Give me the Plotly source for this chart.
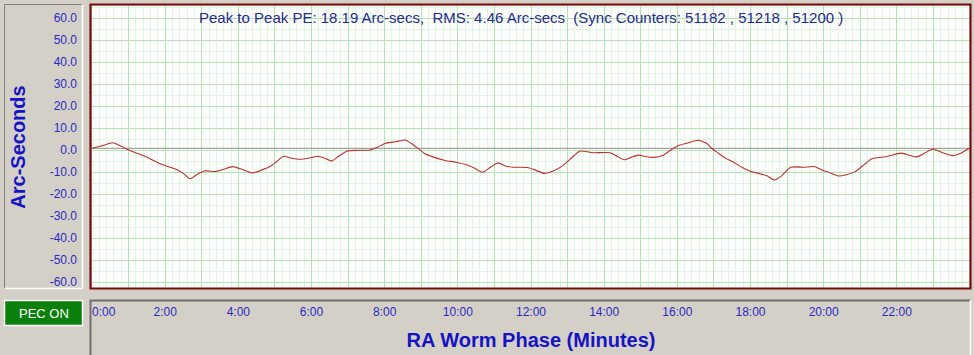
import plotly.graph_objects as go

# ---- data ----
phase_min = [0.0, 0.3, 0.57, 0.79, 1.02, 1.43, 1.93, 2.30, 2.50, 2.68, 2.88, 3.07, 3.39, 3.60,
             3.85, 4.10, 4.39, 4.65, 4.89, 5.05, 5.24, 5.45, 5.68, 5.95, 6.17, 6.35, 6.55, 6.75,
             6.98, 7.30, 7.60, 7.80, 8.01, 8.30, 8.56, 8.75, 8.97, 9.10, 9.33, 9.65, 9.95, 10.24,
             10.45, 10.68, 10.90, 11.10, 11.30, 11.50, 11.90, 12.10, 12.37, 12.62, 12.86, 13.10,
             13.33, 13.70, 14.16, 14.35, 14.55, 14.75, 14.93, 15.15, 15.37, 15.60, 15.80, 16.02,
             16.26, 16.57, 16.80, 16.95, 17.12, 17.35, 17.50, 17.75, 17.99, 18.25, 18.45, 18.66,
             18.85, 19.10, 19.45, 19.75, 19.95, 20.15, 20.40, 20.62, 20.86, 21.10, 21.31, 21.70,
             22.13, 22.54, 22.98, 23.25, 23.52, 23.75, 23.98]
pe_arcsec = [1.0, 2.3, 3.5, 2.0, 0.1, -2.5, -6.5, -8.5, -10.5, -12.8, -10.8, -9.3, -9.5, -8.5,
             -7.3, -8.5, -10.2, -8.8, -7.0, -5.0, -2.6, -3.5, -4.0, -3.4, -2.6, -3.4, -4.8, -2.5,
             -0.2, 0.1, 0.2, 1.5, 3.2, 4.0, 4.8, 3.0, 0.2, -1.5, -3.0, -4.5, -5.3, -6.5,
             -8.0, -9.9, -7.5, -5.6, -7.0, -7.6, -7.7, -8.8, -10.4, -9.2, -7.0, -3.5,
             -0.3, -1.0, -1.0, -2.6, -4.2, -3.0, -2.1, -2.8, -3.1, -2.3, 0.0, 2.2,
             3.3, 4.7, 3.3, 0.8, -1.2, -3.8, -5.0, -7.5, -9.4, -10.5, -11.5, -13.4,
             -11.5, -7.6, -7.6, -7.3, -8.9, -10.0, -11.6, -11.0, -9.6, -6.5, -3.8, -2.8,
             -1.2, -2.9, 0.6, -1.0, -2.3, -1.2, 1.0]
zero_reference = 1.0

x_tick_vals = list(range(0, 24))
x_tick_text = ["\u00a0" * 7 + "0:00" if v == 0 else (f"{v}:00" if v % 2 == 0 else "") for v in x_tick_vals]
y_tick_vals = [60, 50, 40, 30, 20, 10, 0, -10, -20, -30, -40, -50, -60]
y_tick_text = [f"{v:.1f}" for v in y_tick_vals]

title_text = ("Peak to Peak PE: 18.19 Arc-secs,\u00a0 RMS: 4.46 Arc-secs\u00a0 "
              "(Sync Counters: 51182 , 51218 , 51200 )")

# ---- layout geometry ----
W, H = 974, 355
L, R, T, B = 92, 4, 6, 67
PW, PH = W - L - R, H - T - B


def px(xp):
    return (xp - L) / PW


def py(yp):
    return (H - B - yp) / PH


FONT = "Liberation Sans, Arial, sans-serif"
BG = "#d4d0c8"
DARK = "#808080"

fig = go.Figure()
fig.add_trace(go.Scatter(x=[0, 24], y=[zero_reference, zero_reference], mode="lines",
                         line=dict(color="#8c8c8c", width=1), hoverinfo="skip", showlegend=False))
fig.add_trace(go.Scatter(x=phase_min, y=pe_arcsec, mode="lines",
                         line=dict(color="#b8302a", width=1.1, shape="spline", smoothing=0.6),
                         hoverinfo="skip", showlegend=False))

shapes = []
# left sunken panel
shapes.append(dict(type="rect", xref="paper", yref="paper", x0=px(4), x1=px(83), y0=py(289), y1=py(4),
                   fillcolor=BG, line=dict(width=0), layer="below"))
shapes.append(dict(type="line", xref="paper", yref="paper", x0=px(4.5), x1=px(83), y0=py(4.5), y1=py(4.5),
                   line=dict(color=DARK, width=1), layer="below"))
shapes.append(dict(type="line", xref="paper", yref="paper", x0=px(4.5), x1=px(4.5), y0=py(289), y1=py(4.5),
                   line=dict(color=DARK, width=1), layer="below"))
shapes.append(dict(type="line", xref="paper", yref="paper", x0=px(4.5), x1=px(83), y0=py(288.5), y1=py(288.5),
                   line=dict(color="white", width=1.5), layer="below"))
shapes.append(dict(type="line", xref="paper", yref="paper", x0=px(82.5), x1=px(82.5), y0=py(289), y1=py(4.5),
                   line=dict(color="white", width=1.5), layer="below"))
# PEC ON button
shapes.append(dict(type="rect", xref="paper", yref="paper", x0=px(4.5), x1=px(82.5), y0=py(325.5), y1=py(300.5),
                   fillcolor="#0a800a", line=dict(color="white", width=1.5), layer="below"))
# bottom panel
shapes.append(dict(type="rect", xref="paper", yref="paper", x0=px(90), x1=px(971), y0=py(360), y1=py(300),
                   fillcolor=BG, line=dict(width=0), layer="below"))
shapes.append(dict(type="line", xref="paper", yref="paper", x0=px(90), x1=px(971), y0=py(300.5), y1=py(300.5),
                   line=dict(color="#6e6e6e", width=2), layer="below"))
shapes.append(dict(type="line", xref="paper", yref="paper", x0=px(90.5), x1=px(90.5), y0=py(360), y1=py(300),
                   line=dict(color="#6e6e6e", width=2), layer="below"))
shapes.append(dict(type="line", xref="paper", yref="paper", x0=px(970.5), x1=px(970.5), y0=py(360), y1=py(300),
                   line=dict(color="white", width=1.5), layer="below"))
# plot border
shapes.append(dict(type="rect", xref="paper", yref="paper", x0=px(90.5), x1=px(970.5), y0=py(288.5), y1=py(4.5),
                   line=dict(color="#7a0c0c", width=2.2), layer="above"))

annotations = [
    dict(text=title_text, xref="paper", yref="paper", x=px(197), y=py(17), xanchor="left", yanchor="middle",
         showarrow=False, font=dict(family=FONT, size=15, color="#1f2a8c")),
    dict(text="PEC ON", xref="paper", yref="paper", x=px(43.5), y=py(313), xanchor="center", yanchor="middle",
         showarrow=False, font=dict(family=FONT, size=13, color="white")),
]

fig.update_layout(
    width=W, height=H,
    margin=dict(l=L, r=R, t=T, b=B, pad=0, autoexpand=False),
    paper_bgcolor=BG, plot_bgcolor="white",
    showlegend=False,
    shapes=shapes, annotations=annotations,
    xaxis=dict(range=[0, 24], tickmode="array", tickvals=x_tick_vals, ticktext=x_tick_text,
               showgrid=True, gridcolor="#b4e4b4", gridwidth=1, zeroline=False, showline=False,
               ticks="", ticklabelstandoff=15, automargin=False,
               tickfont=dict(family=FONT, size=12, color="#2a2ac0"),
               minor=dict(tickmode="linear", tick0=0, dtick=0.2, showgrid=True, gridcolor="#e2f4e2", gridwidth=1),
               title=dict(text="<b>RA Worm Phase (Minutes)</b>", standoff=14,
                          font=dict(family=FONT, size=20, color="#1414c4"))),
    yaxis=dict(range=[-62.5, 65.7], tickmode="array", tickvals=y_tick_vals, ticktext=y_tick_text,
               showgrid=True, gridcolor="#b4e4b4", gridwidth=1, zeroline=False, showline=False,
               ticks="", ticklabelstandoff=14, ticklabelshift=-1, automargin=False,
               tickfont=dict(family=FONT, size=12, color="#2a2ac0"),
               minor=dict(tickmode="linear", tick0=0, dtick=5, showgrid=True, gridcolor="#e2f4e2", gridwidth=1),
               title=dict(text="<b>Arc-Seconds</b>", standoff=18,
                          font=dict(family=FONT, size=20, color="#1414c4"))),
)

fig.write_html("out.html", config={"displayModeBar": False, "staticPlot": True},
               post_script="document.body.style.margin='0';document.body.style.background='#d4d0c8';")
